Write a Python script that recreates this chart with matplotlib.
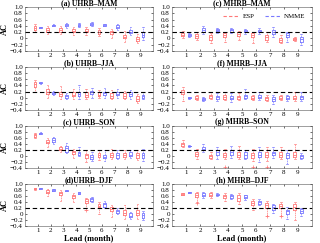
import matplotlib
matplotlib.use("Agg")
import matplotlib.pyplot as plt
from matplotlib.lines import Line2D

plt.rcParams['font.family'] = ['Liberation Serif', 'DejaVu Serif']

leads = [1, 2, 3, 4, 5, 6, 7, 8, 9]
yticks = [-0.4, -0.2, 0, 0.2, 0.4, 0.6, 0.8, 1.0]
ytick_labels = ['\u22120.4', '\u22120.2', '0', '0.2', '0.4', '0.6', '0.8', '1.0']
threshold = 0.2

titles = ['(a) UHRB\u2013MAM', '(c) MHRB\u2013MAM',
          '(b) UHRB\u2013JJA', '(f) MHRB\u2013JJA',
          '(c) UHRB\u2013SON', '(g) MHRB\u2013SON',
          '(d)UHRB\u2013DJF', '(h) MHRB\u2013DJF']

# each entry: (whisker low, q1, median, q3, whisker high)
esp_uhrb_mam = [(0.22, 0.28, 0.33, 0.38, 0.45), (0.15, 0.22, 0.27, 0.32, 0.38), (0.15, 0.22, 0.27, 0.32, 0.40),
                (0.12, 0.20, 0.25, 0.30, 0.35), (0.10, 0.20, 0.25, 0.30, 0.35), (0.08, 0.15, 0.20, 0.27, 0.32),
                (0.00, 0.13, 0.20, 0.25, 0.30), (-0.10, 0.00, 0.05, 0.12, 0.25), (-0.15, -0.08, -0.02, 0.05, 0.15)]
nmme_uhrb_mam = [(0.34, 0.345, 0.35, 0.36, 0.365), (0.39, 0.40, 0.42, 0.44, 0.45), (0.33, 0.38, 0.42, 0.46, 0.50),
                 (0.36, 0.40, 0.42, 0.45, 0.48), (0.38, 0.42, 0.45, 0.48, 0.52), (0.38, 0.40, 0.42, 0.45, 0.47),
                 (0.28, 0.33, 0.37, 0.42, 0.45), (0.10, 0.18, 0.22, 0.28, 0.35), (-0.05, 0.05, 0.12, 0.20, 0.35)]
esp_mhrb_mam = [(0.00, 0.08, 0.12, 0.17, 0.25), (-0.05, 0.00, 0.08, 0.15, 0.20), (-0.15, -0.05, 0.03, 0.10, 0.17),
                (-0.10, 0.05, 0.12, 0.17, 0.22), (-0.05, 0.08, 0.15, 0.20, 0.25), (-0.15, 0.05, 0.12, 0.18, 0.22),
                (-0.12, -0.05, 0.03, 0.12, 0.20), (-0.15, -0.10, -0.05, 0.02, 0.10), (-0.08, -0.05, -0.02, 0.02, 0.05)]
nmme_mhrb_mam = [(0.05, 0.07, 0.12, 0.15, 0.17), (0.15, 0.22, 0.28, 0.33, 0.38), (0.18, 0.23, 0.27, 0.30, 0.33),
                 (0.18, 0.22, 0.26, 0.30, 0.32), (0.15, 0.20, 0.24, 0.28, 0.30), (0.15, 0.20, 0.25, 0.28, 0.32),
                 (0.05, 0.15, 0.22, 0.28, 0.35), (-0.12, 0.05, 0.10, 0.18, 0.22), (-0.20, -0.10, -0.03, 0.05, 0.15)]
esp_uhrb_jja = [(0.20, 0.35, 0.45, 0.52, 0.57), (0.00, 0.12, 0.20, 0.28, 0.42), (-0.05, 0.05, 0.12, 0.20, 0.38),
                (-0.05, 0.05, 0.10, 0.17, 0.28), (-0.05, 0.03, 0.10, 0.18, 0.28), (-0.02, 0.05, 0.10, 0.17, 0.25),
                (-0.05, 0.00, 0.07, 0.15, 0.25), (-0.05, 0.00, 0.07, 0.15, 0.22), (-0.17, -0.10, -0.03, 0.05, 0.12)]
nmme_uhrb_jja = [(0.46, 0.47, 0.48, 0.50, 0.51), (0.10, 0.12, 0.16, 0.20, 0.22), (-0.05, 0.00, 0.05, 0.10, 0.15),
                 (-0.05, 0.05, 0.12, 0.20, 0.42), (0.00, 0.12, 0.17, 0.22, 0.32), (0.00, 0.10, 0.15, 0.20, 0.30),
                 (0.00, 0.08, 0.13, 0.20, 0.28), (-0.03, 0.05, 0.12, 0.18, 0.25), (-0.05, 0.00, 0.05, 0.10, 0.18)]
esp_mhrb_jja = [(-0.10, 0.12, 0.20, 0.25, 0.35), (-0.08, -0.05, 0.00, 0.05, 0.10), (-0.05, -0.02, 0.05, 0.10, 0.18),
                (-0.07, -0.03, 0.03, 0.08, 0.17), (-0.08, -0.03, 0.02, 0.07, 0.15), (-0.08, -0.05, 0.00, 0.05, 0.10),
                (-0.10, -0.07, -0.02, 0.03, 0.10), (-0.08, -0.05, 0.00, 0.05, 0.10), (-0.10, -0.05, 0.00, 0.05, 0.18)]
nmme_mhrb_jja = [(-0.03, -0.02, 0.00, 0.02, 0.03), (-0.10, -0.07, -0.03, 0.00, 0.03), (-0.10, -0.05, 0.02, 0.07, 0.15),
                 (-0.15, -0.05, 0.00, 0.05, 0.15), (-0.05, 0.00, 0.05, 0.10, 0.27), (-0.08, -0.02, 0.03, 0.08, 0.18),
                 (-0.22, -0.10, -0.03, 0.03, 0.10), (-0.10, -0.05, 0.00, 0.05, 0.10), (-0.12, -0.05, 0.02, 0.07, 0.20)]
esp_uhrb_son = [(0.60, 0.65, 0.70, 0.75, 0.78), (0.30, 0.42, 0.48, 0.55, 0.60), (0.12, 0.20, 0.25, 0.30, 0.35),
                (-0.05, 0.07, 0.12, 0.18, 0.25), (-0.20, -0.05, 0.02, 0.08, 0.20), (-0.12, -0.02, 0.05, 0.10, 0.20),
                (-0.10, -0.02, 0.05, 0.10, 0.22), (-0.10, -0.02, 0.05, 0.10, 0.20), (-0.12, -0.05, 0.02, 0.10, 0.20)]
nmme_uhrb_son = [(0.72, 0.73, 0.76, 0.78, 0.79), (0.40, 0.48, 0.55, 0.60, 0.65), (0.10, 0.15, 0.27, 0.35, 0.45),
                 (0.00, 0.05, 0.10, 0.15, 0.30), (-0.15, -0.10, -0.02, 0.05, 0.15), (-0.15, -0.08, -0.03, 0.05, 0.20),
                 (-0.10, -0.05, 0.03, 0.10, 0.20), (-0.08, 0.00, 0.05, 0.12, 0.20), (-0.15, -0.05, 0.03, 0.10, 0.25)]
esp_mhrb_son = [(0.30, 0.35, 0.40, 0.45, 0.52), (-0.10, 0.00, 0.08, 0.15, 0.25), (-0.10, -0.05, 0.00, 0.05, 0.15),
                (-0.10, -0.02, 0.05, 0.10, 0.25), (-0.10, -0.02, 0.05, 0.12, 0.35), (-0.15, -0.05, 0.03, 0.10, 0.25),
                (-0.15, -0.03, 0.05, 0.12, 0.30), (-0.10, -0.03, 0.05, 0.15, 0.30), (-0.10, -0.03, 0.05, 0.15, 0.40)]
nmme_mhrb_son = [(0.31, 0.32, 0.33, 0.35, 0.36), (0.15, 0.20, 0.25, 0.30, 0.40), (-0.10, 0.05, 0.15, 0.20, 0.30),
                 (-0.05, 0.05, 0.13, 0.20, 0.35), (-0.10, -0.05, 0.05, 0.12, 0.20), (-0.20, -0.02, 0.05, 0.12, 0.30),
                 (-0.05, 0.05, 0.10, 0.15, 0.30), (-0.25, -0.05, 0.03, 0.10, 0.20), (-0.10, -0.05, 0.00, 0.05, 0.10)]
esp_uhrb_djf = [(0.81, 0.82, 0.84, 0.86, 0.87), (0.60, 0.70, 0.75, 0.80, 0.85), (0.45, 0.62, 0.70, 0.75, 0.80),
                (0.40, 0.52, 0.60, 0.65, 0.70), (0.15, 0.38, 0.45, 0.50, 0.55), (0.00, 0.22, 0.28, 0.35, 0.40),
                (-0.10, 0.10, 0.17, 0.25, 0.30), (-0.15, -0.02, 0.05, 0.12, 0.30), (-0.15, -0.03, 0.05, 0.15, 0.35)]
nmme_uhrb_djf = [(0.84, 0.85, 0.86, 0.87, 0.88), (0.77, 0.78, 0.80, 0.82, 0.83), (0.76, 0.77, 0.78, 0.80, 0.81),
                 (0.67, 0.68, 0.70, 0.72, 0.73), (0.40, 0.43, 0.50, 0.55, 0.58), (0.20, 0.25, 0.32, 0.38, 0.45),
                 (0.00, 0.05, 0.10, 0.15, 0.20), (-0.15, -0.10, -0.05, 0.02, 0.08), (-0.20, -0.12, -0.03, 0.05, 0.10)]
esp_mhrb_djf = [(0.64, 0.65, 0.68, 0.70, 0.71), (0.40, 0.58, 0.65, 0.70, 0.75), (0.55, 0.60, 0.65, 0.70, 0.72),
                (0.45, 0.52, 0.60, 0.65, 0.70), (0.35, 0.45, 0.55, 0.62, 0.70), (0.15, 0.30, 0.38, 0.45, 0.50),
                (-0.08, 0.20, 0.30, 0.38, 0.45), (-0.08, 0.20, 0.28, 0.35, 0.40), (-0.20, 0.15, 0.25, 0.32, 0.40)]
nmme_mhrb_djf = [(0.69, 0.70, 0.72, 0.73, 0.74), (0.55, 0.60, 0.65, 0.70, 0.72), (0.60, 0.62, 0.65, 0.68, 0.70),
                 (0.50, 0.55, 0.60, 0.65, 0.67), (0.48, 0.52, 0.57, 0.62, 0.65), (0.30, 0.35, 0.40, 0.45, 0.50),
                 (0.05, 0.15, 0.22, 0.30, 0.35), (-0.15, 0.00, 0.10, 0.15, 0.25), (-0.05, 0.05, 0.10, 0.18, 0.20)]

# outliers ('+') per panel index: (lead, value)
esp_mhrb_son_fliers = [(4, -0.35), (6, -0.35), (7, -0.38)]
esp_mhrb_djf_fliers = [(2, 0.38), (7, -0.08), (8, -0.08)]
esp_uhrb_djf_fliers = [(5, 0.15)]

panels_esp = [esp_uhrb_mam, esp_mhrb_mam, esp_uhrb_jja, esp_mhrb_jja,
              esp_uhrb_son, esp_mhrb_son, esp_uhrb_djf, esp_mhrb_djf]
panels_nmme = [nmme_uhrb_mam, nmme_mhrb_mam, nmme_uhrb_jja, nmme_mhrb_jja,
               nmme_uhrb_son, nmme_mhrb_son, nmme_uhrb_djf, nmme_mhrb_djf]
panels_esp_fliers = {5: esp_mhrb_son_fliers, 7: esp_mhrb_djf_fliers, 6: esp_uhrb_djf_fliers}

esp_color = '#ff7878'
nmme_color = '#7878ff'
offset = 0.22

fig = plt.figure(figsize=(3.2, 2.43), dpi=100)
W, H = 320.0, 243.0
col_x = [(25, 153), (172, 312)]
row_y = [(7, 51), (67, 110), (126, 168), (184, 226)]


def stats_of(rows):
    out = []
    for lo, q1, med, q3, hi in rows:
        out.append(dict(whislo=lo, q1=q1, med=med, q3=q3, whishi=hi, fliers=[]))
    return out


def draw(ax, rows, pos, color):
    ax.bxp(stats_of(rows), positions=pos, widths=0.22, showfliers=False,
           boxprops=dict(color=color, linewidth=0.6),
           whiskerprops=dict(color=color, linewidth=0.5, linestyle=(0, (2, 1))),
           capprops=dict(color=color, linewidth=0.5),
           medianprops=dict(color=color, linewidth=0.6),
           manage_ticks=False)


for i in range(8):
    r, c = divmod(i, 2)
    x0, x1 = col_x[c]
    y0, y1 = row_y[r]
    ax = fig.add_axes([x0 / W, 1 - y1 / H, (x1 - x0) / W, (y1 - y0) / H])
    draw(ax, panels_esp[i], [l - offset for l in leads], esp_color)
    draw(ax, panels_nmme[i], [l + offset for l in leads], nmme_color)
    if i in panels_esp_fliers:
        fl = panels_esp_fliers[i]
        ax.plot([l - offset for l, v in fl], [v for l, v in fl], '+',
                color=esp_color, markersize=2.5, markeredgewidth=0.5)
    ax.axhline(threshold, color='black', linestyle=(0, (4, 2.5)), linewidth=0.8)
    ax.set_xlim(0, 10)
    ax.set_ylim(-0.4, 1.0)
    ax.set_xticks(leads)
    ax.set_xticklabels([str(l) for l in leads], fontsize=5)
    ax.set_yticks(yticks)
    ax.set_yticklabels(ytick_labels, fontsize=5)
    ax.tick_params(direction='in', top=True, right=True, length=1.5, width=0.4, pad=1.5)
    for s in ax.spines.values():
        s.set_linewidth(0.4)
        s.set_color('#555555')
    ax.set_title(titles[i], fontsize=5.5, fontweight='bold', pad=1.5)
    if c == 0:
        ax.set_ylabel('AC', fontsize=6, fontweight='bold', labelpad=1)
    if r == 3:
        ax.set_xlabel('Lead (month)', fontsize=6, fontweight='bold', labelpad=1)
    if i == 1:
        handles = [Line2D([], [], color=esp_color, linestyle=(0, (3, 2)), linewidth=0.8),
                   Line2D([], [], color=nmme_color, linestyle=(0, (3, 2)), linewidth=0.8)]
        ax.legend(handles, ['ESP', 'NMME'], ncol=2, frameon=False, fontsize=5,
                  loc='upper right', handlelength=2.2, columnspacing=1.5,
                  handletextpad=0.6, borderaxespad=0.5)

fig.savefig('out.png', dpi=100)
